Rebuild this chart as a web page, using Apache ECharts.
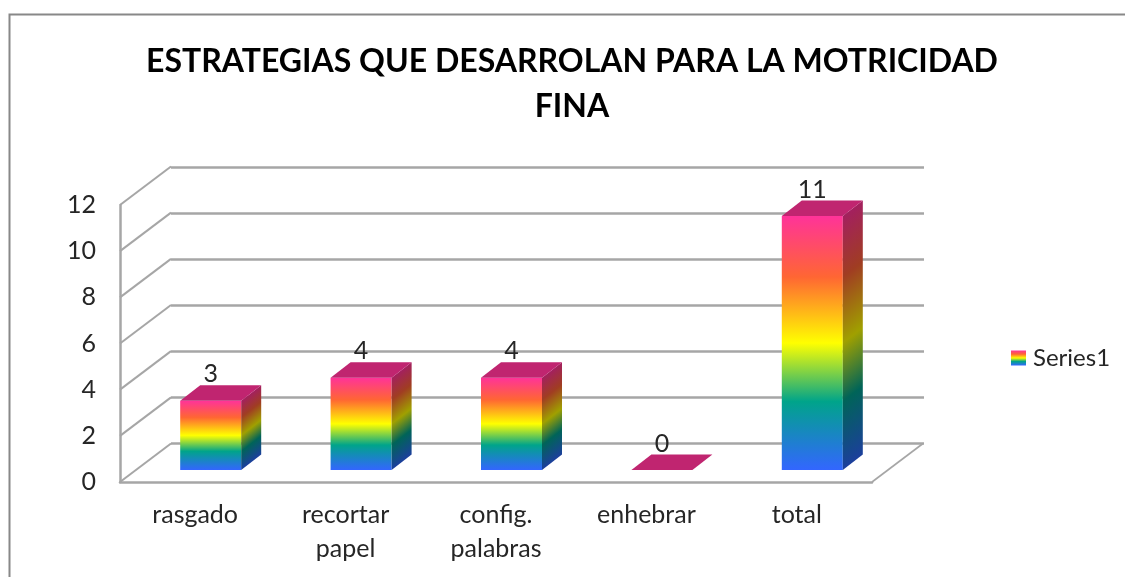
<!DOCTYPE html>
<html><head><meta charset="utf-8">
<style>html,body{margin:0;padding:0;background:#fff}#c{width:1125px;height:577px}</style>
<script src="https://cdn.jsdelivr.net/npm/echarts@6/dist/echarts.min.js"></script>
</head><body><div id="c"></div>
<script>
const categories = ['rasgado', 'recortar\npapel', 'config.\npalabras', 'enhebrar', 'total'];
const values = [3, 4, 4, 0, 11];
const yTicks = [0, 2, 4, 6, 8, 10, 12];
const titleText = 'ESTRATEGIAS QUE DESARROLAN PARA LA MOTRICIDAD\nFINA';
const seriesName = 'Series1';

const FONT = 'Lato';
const GRID = '#a6a6a6';
const mk = a => a.map(([offset,color]) => ({offset,color}));
const stops = mk([[0,'#FF3399'],[0.24,'#FF6633'],[0.5,'#FFFF00'],[0.73,'#00A48A'],[1,'#3366FF']]);
const sideStops = mk([[0,'#A3205F'],[0.24,'#A03D22'],[0.5,'#A0A000'],[0.73,'#006458'],[1,'#1C3F9C']]);
const TOP = '#C02570';
const WALL_DX = 51, WALL_DY = 38.5;
const BAR_W = 61, OFF_X = 15.5, OFF_Y = 12, D_X = 20, D_Y = 15.5;

const chart = echarts.init(document.getElementById('c'), null, {renderer:'canvas'});
document.querySelectorAll('#c canvas').forEach(c => { c.getContext('2d').textRendering = 'optimizeSpeed'; });
chart.setOption({
  animation:false,
  backgroundColor:'#fff',
  title:{text:titleText,left:567,top:34,textAlign:'center',
    textStyle:{fontFamily:FONT,fontSize:32,fontWeight:'bold',color:'#000',lineHeight:45}},
  legend:{data:[{name:seriesName,icon:'rect',itemStyle:{color:new echarts.graphic.LinearGradient(0,0,0,1,stops)}}],
    left:1006,top:341,itemWidth:15,itemHeight:15,itemGap:0,
    textStyle:{fontFamily:FONT,fontSize:24,color:'#262626',padding:[0,0,0,2]}},
  graphic:[
    {type:'polyline',silent:true,z:-1,shape:{points:[[9.5,577],[9.5,14.5],[1125,14.5]]},style:{stroke:'#888',lineWidth:2,fill:null}}
  ],
  grid:[
    {left:120,right:253,top:205,bottom:95},
    {left:171,right:201,top:167,bottom:134}
  ],
  xAxis:[
    {type:'category',gridIndex:0,data:categories,
     axisTick:{show:false},axisLine:{lineStyle:{color:GRID,width:2.5}},
     axisLabel:{fontFamily:FONT,fontSize:25,color:'#262626',lineHeight:34,margin:16,interval:0}},
    {type:'category',gridIndex:1,data:categories,show:false}
  ],
  yAxis:[
    {type:'value',gridIndex:0,min:0,max:12,interval:2,splitLine:{show:false},
     axisLine:{show:true,lineStyle:{color:GRID,width:2.5}},axisTick:{show:false},
     axisLabel:{fontFamily:FONT,fontSize:25,color:'#262626',margin:24}},
    {type:'value',gridIndex:1,min:0,max:12,interval:2,axisLine:{show:false},axisTick:{show:false},axisLabel:{show:false},
     splitLine:{show:true,lineStyle:{color:GRID,width:2.5}}}
  ],
  series:[
    {type:'custom',name:'walls',xAxisIndex:0,yAxisIndex:0,silent:true,clip:false,z:1,
     data:yTicks.map(t=>[0,t]),
     renderItem(params,api){
       const y = api.coord([0,api.value(1)])[1];
       const cs = params.coordSys;
       const kids = [{type:'line',shape:{x1:cs.x,y1:y,x2:cs.x+WALL_DX,y2:y-WALL_DY},style:{stroke:GRID,lineWidth:2}}];
       if(api.value(1)===0){
         kids.push({type:'line',shape:{x1:cs.x+cs.width,y1:y,x2:cs.x+cs.width+WALL_DX,y2:y-WALL_DY},style:{stroke:GRID,lineWidth:1.6}});
       }
       return {type:'group',children:kids};
     }},
    {type:'custom',name:seriesName,xAxisIndex:0,yAxisIndex:0,silent:true,clip:false,z:3,
     data:values.map((v,i)=>[i,v]),
     renderItem(params,api){
       const p = api.coord([api.value(0),api.value(1)]);
       const b = api.coord([api.value(0),0]);
       const l = p[0]-BAR_W/2+OFF_X, r = l+BAR_W;
       const t = p[1]-OFF_Y, bo = b[1]-OFF_Y;
       const h = bo-t;
       const kids = [];
       if(h>0){
         kids.push({type:'rect',shape:{x:l,y:t,width:BAR_W,height:h},
           style:{fill:new echarts.graphic.LinearGradient(0,t,0,bo,stops,true)}});
         const n = Math.hypot(D_X,D_Y), nx=D_Y/n, ny=D_X/n, proj=h*ny;
         kids.push({type:'polygon',shape:{points:[[r,t],[r+D_X,t-D_Y],[r+D_X,bo-D_Y],[r,bo]]},
           style:{fill:new echarts.graphic.LinearGradient(r,t,r+nx*proj,t+ny*proj,sideStops,true)}});
       }
       kids.push({type:'polygon',shape:{points:[[l,t],[r,t],[r+D_X,t-D_Y],[l+D_X,t-D_Y]]},style:{fill:TOP}});
       kids.push({type:'text',style:{text:String(api.value(1)),x:(l+r)/2,y:t-D_Y-11,align:'center',verticalAlign:'middle',
         font:'25px '+FONT,fill:'#262626'}});
       return {type:'group',children:kids};
     }}
  ]
});
</script></body></html>
